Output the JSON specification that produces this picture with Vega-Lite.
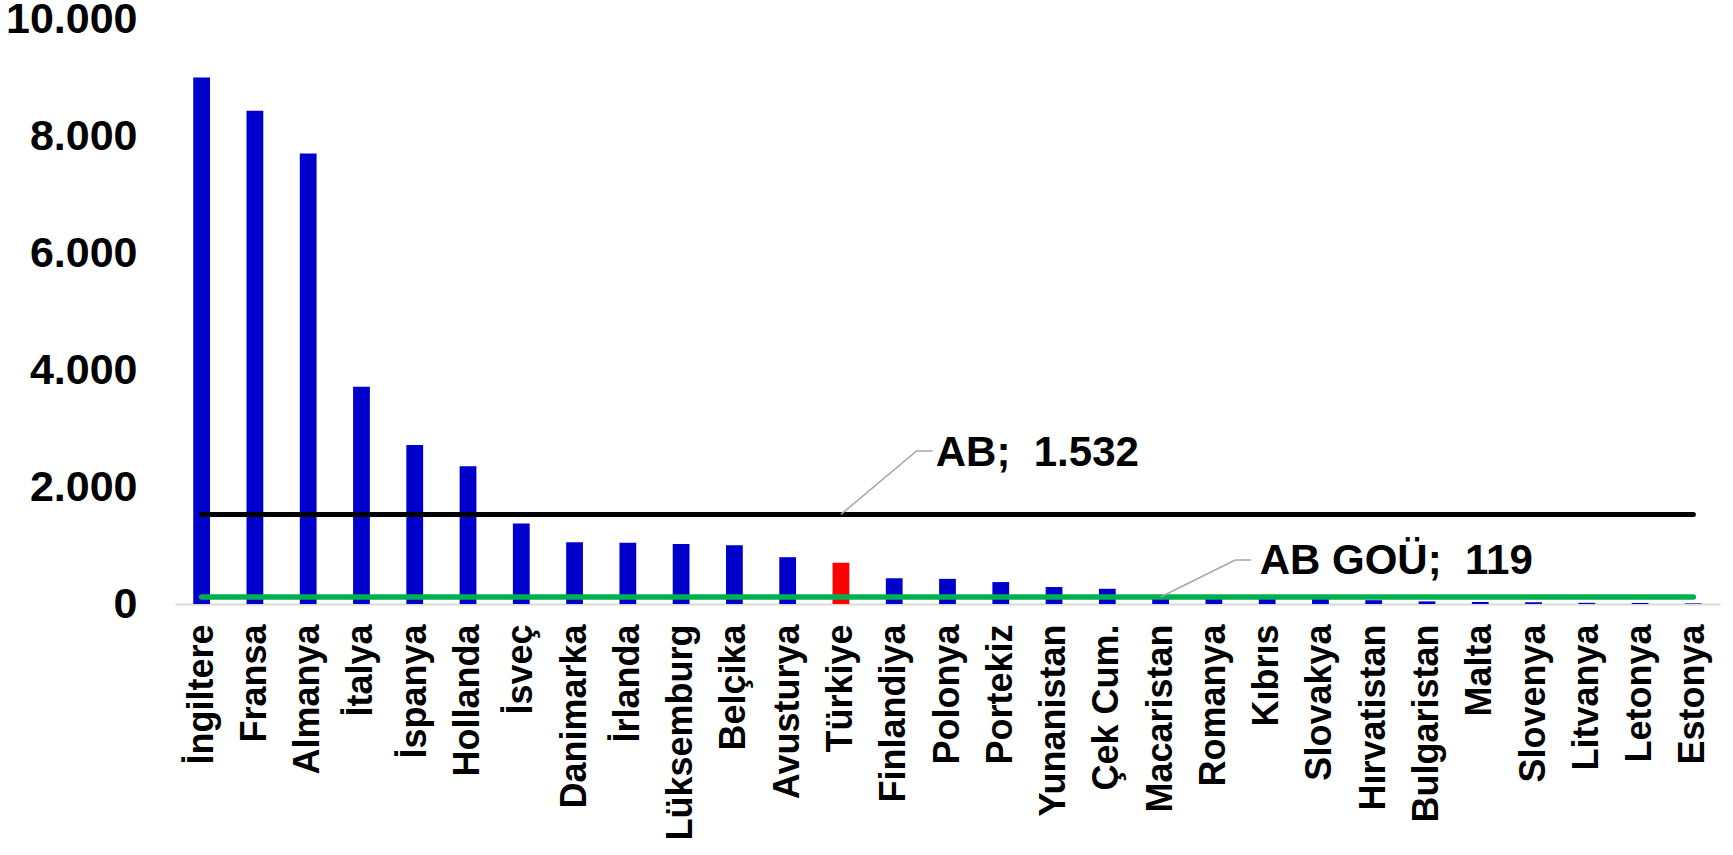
{
  "$schema": "https://vega.github.io/schema/vega-lite/v6.json",
  "width": 1545,
  "height": 585,
  "autosize": "none",
  "padding": {"left": 175, "top": 19, "right": 13, "bottom": 251},
  "background": "white",
  "config": {"view": {"stroke": null}, "font": "Liberation Sans"},
  "datasets": {
    "countries": [
      {"country": "İngiltere", "value": 9000, "group": "AB", "ab": 1532, "abgou": 119},
      {"country": "Fransa", "value": 8430, "group": "AB", "ab": 1532, "abgou": 119},
      {"country": "Almanya", "value": 7700, "group": "AB", "ab": 1532, "abgou": 119},
      {"country": "İtalya", "value": 3715, "group": "AB", "ab": 1532, "abgou": 119},
      {"country": "İspanya", "value": 2720, "group": "AB", "ab": 1532, "abgou": 119},
      {"country": "Hollanda", "value": 2355, "group": "AB", "ab": 1532, "abgou": 119},
      {"country": "İsveç", "value": 1375, "group": "AB", "ab": 1532, "abgou": 119},
      {"country": "Danimarka", "value": 1055, "group": "AB", "ab": 1532, "abgou": 119},
      {"country": "İrlanda", "value": 1045, "group": "AB", "ab": 1532, "abgou": 119},
      {"country": "Lüksemburg", "value": 1025, "group": "AB", "ab": 1532, "abgou": 119},
      {"country": "Belçika", "value": 1005, "group": "AB", "ab": 1532, "abgou": 119},
      {"country": "Avusturya", "value": 800, "group": "AB", "ab": 1532, "abgou": 119},
      {"country": "Türkiye", "value": 705, "group": "TR", "ab": 1532, "abgou": 119},
      {"country": "Finlandiya", "value": 440, "group": "AB", "ab": 1532, "abgou": 119},
      {"country": "Polonya", "value": 430, "group": "AB", "ab": 1532, "abgou": 119},
      {"country": "Portekiz", "value": 375, "group": "AB", "ab": 1532, "abgou": 119},
      {"country": "Yunanistan", "value": 290, "group": "AB", "ab": 1532, "abgou": 119},
      {"country": "Çek Cum.", "value": 260, "group": "AB", "ab": 1532, "abgou": 119},
      {"country": "Macaristan", "value": 125, "group": "AB", "ab": 1532, "abgou": 119},
      {"country": "Romanya", "value": 115, "group": "AB", "ab": 1532, "abgou": 119},
      {"country": "Kıbrıs", "value": 105, "group": "AB", "ab": 1532, "abgou": 119},
      {"country": "Slovakya", "value": 95, "group": "AB", "ab": 1532, "abgou": 119},
      {"country": "Hırvatistan", "value": 65, "group": "AB", "ab": 1532, "abgou": 119},
      {"country": "Bulgaristan", "value": 45, "group": "AB", "ab": 1532, "abgou": 119},
      {"country": "Malta", "value": 35, "group": "AB", "ab": 1532, "abgou": 119},
      {"country": "Slovenya", "value": 30, "group": "AB", "ab": 1532, "abgou": 119},
      {"country": "Litvanya", "value": 20, "group": "AB", "ab": 1532, "abgou": 119},
      {"country": "Letonya", "value": 18, "group": "AB", "ab": 1532, "abgou": 119},
      {"country": "Estonya", "value": 10, "group": "AB", "ab": 1532, "abgou": 119}
    ],
    "leaders": [
      {"series": "AB", "order": 1, "qx": 12.5, "y": 1532},
      {"series": "AB", "order": 2, "qx": 13.92, "y": 2615},
      {"series": "AB", "order": 3, "qx": 14.22, "y": 2615},
      {"series": "GOU", "order": 1, "qx": 18.5, "y": 119},
      {"series": "GOU", "order": 2, "qx": 19.9, "y": 752},
      {"series": "GOU", "order": 3, "qx": 20.2, "y": 752}
    ],
    "labels": [
      {"label": "AB;\u00a0 1.532", "qx": 14.28, "y": 2580},
      {"label": "AB GOÜ;\u00a0 119", "qx": 20.36, "y": 740}
    ]
  },
  "layer": [
    {
      "data": {"name": "countries"},
      "layer": [
        {
          "mark": {"type": "bar"},
          "encoding": {
            "x": {
              "field": "country", "type": "nominal", "sort": null,
              "scale": {"paddingInner": 0.685, "paddingOuter": 0.3425},
              "axis": {
                "title": null, "ticks": false, "domainColor": "#D9D9D9", "domainWidth": 2,
                "labelAngle": -90, "labelAlign": "right", "labelBaseline": "middle",
                "labelFont": "Liberation Sans", "labelFontWeight": "bold", "labelFontSize": 36,
                "labelColor": "#000000", "labelPadding": 20, "labelLimit": 400, "labelOverlap": false
              }
            },
            "y": {
              "field": "value", "type": "quantitative",
              "scale": {"domain": [0, 10000], "nice": false},
              "axis": {
                "title": null, "domain": false, "ticks": false, "grid": false,
                "values": [0, 2000, 4000, 6000, 8000, 10000],
                "labelExpr": "replace(format(datum.value, ','), ',', '.')",
                "labelFont": "Liberation Sans", "labelFontWeight": "bold", "labelFontSize": 43,
                "labelColor": "#000000", "labelPadding": 38, "labelLimit": 400
              }
            },
            "color": {
              "field": "group", "type": "nominal",
              "scale": {"domain": ["AB", "TR"], "range": ["#0000CC", "#FF0000"]},
              "legend": null
            }
          }
        },
        {
          "mark": {"type": "line", "color": "#000000", "strokeWidth": 5, "strokeCap": "round"},
          "encoding": {
            "x": {"field": "country", "type": "nominal", "sort": null},
            "y": {"field": "ab", "type": "quantitative"}
          }
        },
        {
          "mark": {"type": "line", "color": "#00B050", "strokeWidth": 5.5, "strokeCap": "round"},
          "encoding": {
            "x": {"field": "country", "type": "nominal", "sort": null},
            "y": {"field": "abgou", "type": "quantitative"}
          }
        }
      ]
    },
    {
      "data": {"name": "leaders"},
      "mark": {"type": "line", "color": "#A6A6A6", "strokeWidth": 1.5},
      "encoding": {
        "x": {"field": "qx", "type": "quantitative", "scale": {"domain": [0, 29], "nice": false, "zero": false}, "axis": null},
        "y": {"field": "y", "type": "quantitative"},
        "detail": {"field": "series"},
        "order": {"field": "order"}
      }
    },
    {
      "data": {"name": "labels"},
      "mark": {"type": "text", "align": "left", "baseline": "middle", "font": "Liberation Sans", "fontWeight": "bold", "fontSize": 42, "color": "#000000"},
      "encoding": {
        "x": {"field": "qx", "type": "quantitative", "scale": {"domain": [0, 29], "nice": false, "zero": false}, "axis": null},
        "y": {"field": "y", "type": "quantitative"},
        "text": {"field": "label"}
      }
    }
  ],
  "resolve": {"scale": {"x": "independent"}, "axis": {"x": "independent"}}
}
